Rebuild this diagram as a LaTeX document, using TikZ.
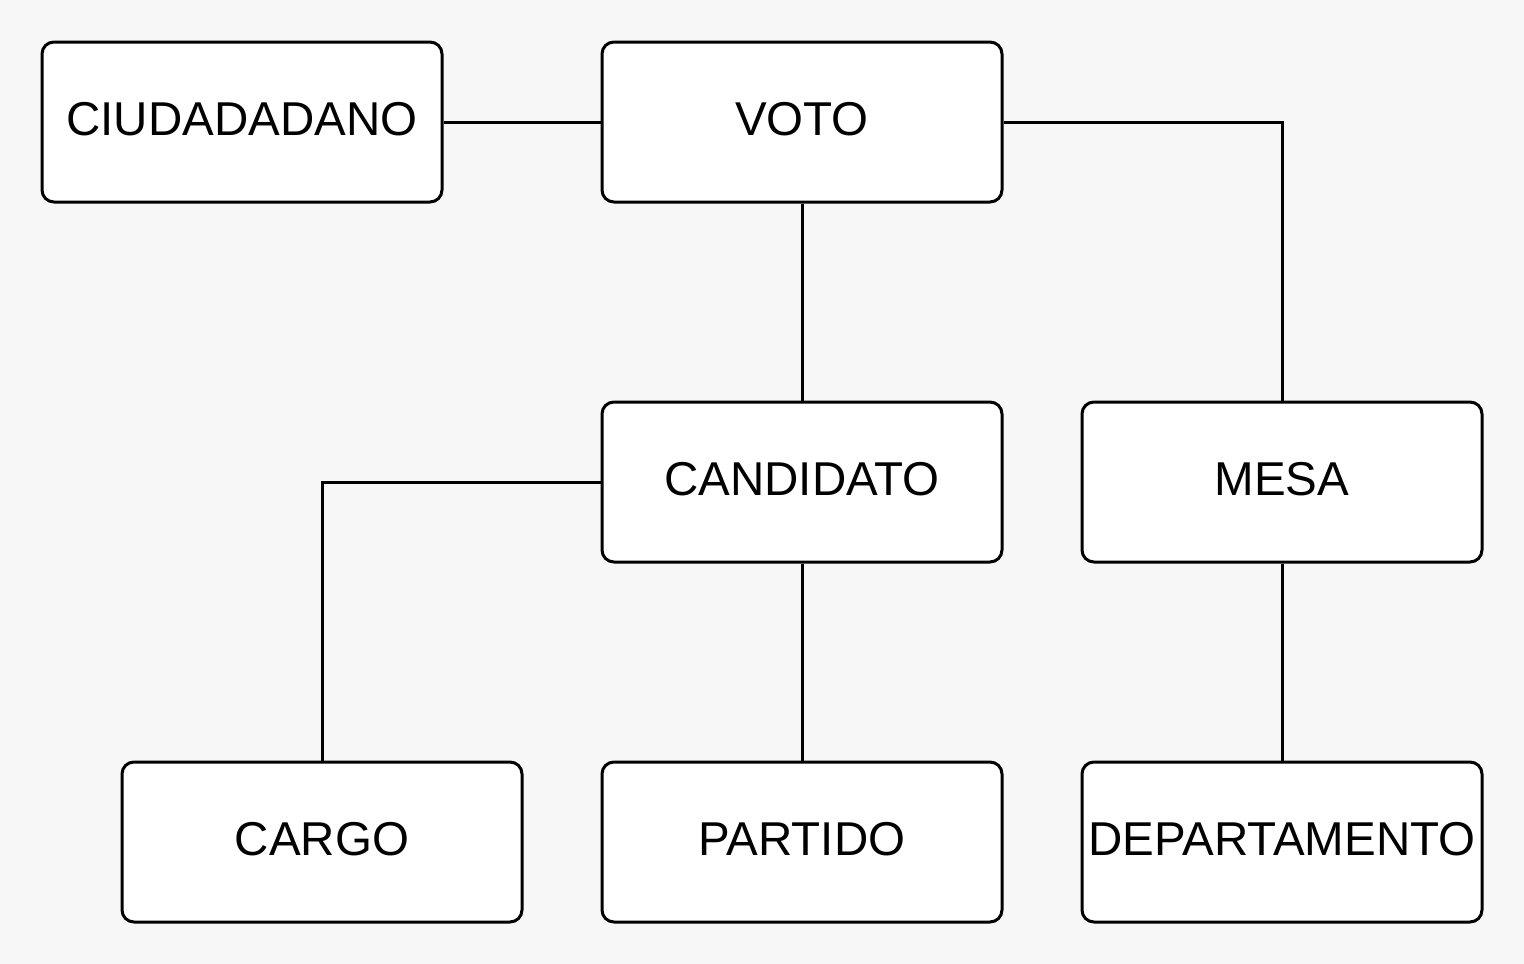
\documentclass[tikz,border=0pt]{standalone}
\usepackage{fontspec}
\setmainfont{Liberation Sans}
\definecolor{bg}{HTML}{F7F7F7}
\begin{document}
\begin{tikzpicture}[x=1pt,y=-1pt,
  entity/.style={draw=black,fill=white,line width=3pt,rounded corners=12pt,
    minimum width=400pt,minimum height=160pt,inner sep=0pt,
    text height=34pt,text depth=7pt,
    font=\fontsize{47.5}{56}\selectfont},
  link/.style={draw=black,line width=3pt}]
\fill[bg] (0,0) rectangle (1524,964);
\useasboundingbox (0,0) rectangle (1524,964);
\node[entity] (ciu) at (242,122) {CIUDADADANO};
\node[entity] (voto) at (802,122) {VOTO};
\node[entity] (cand) at (802,482) {CANDIDATO};
\node[entity] (mesa) at (1282,482) {MESA};
\node[entity] (cargo) at (322,842) {CARGO};
\node[entity] (part) at (802,842) {PARTIDO};
\node[entity] (dep) at (1282,842) {DEPARTAMENTO};
\draw[link] (ciu.east) -- (voto.west);
\draw[link] (voto.south) -- (cand.north);
\draw[link] (voto.east) -| (mesa.north);
\draw[link] (cand.west) -| (cargo.north);
\draw[link] (cand.south) -- (part.north);
\draw[link] (mesa.south) -- (dep.north);
\end{tikzpicture}
\end{document}
